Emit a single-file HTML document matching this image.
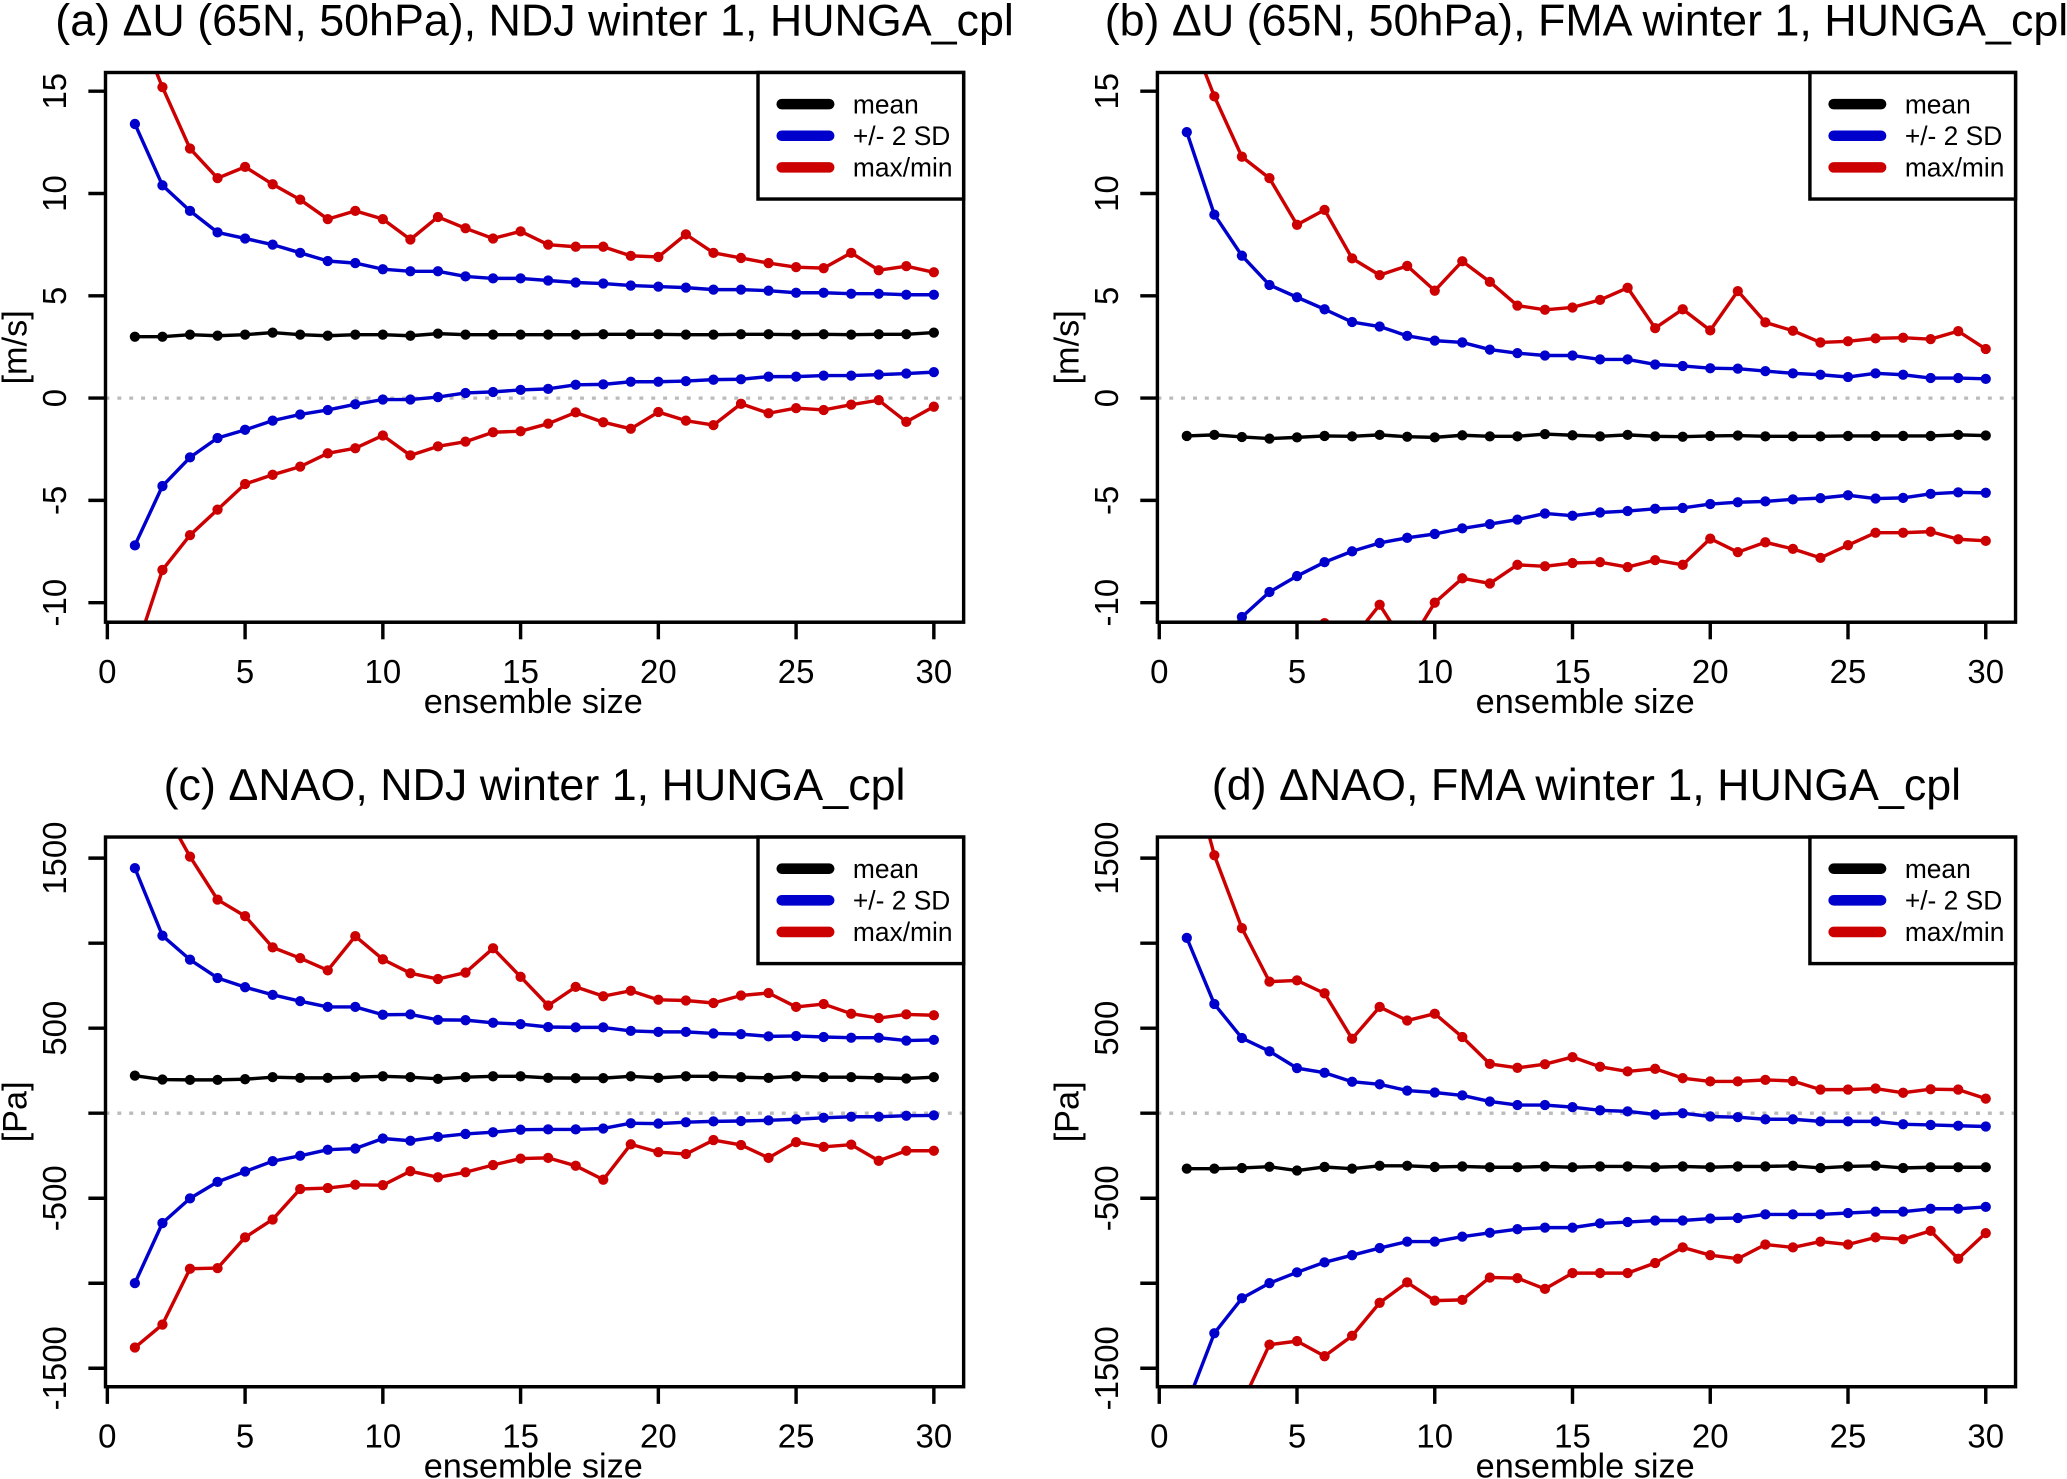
<!DOCTYPE html>
<html><head><meta charset="utf-8"><style>
html,body{margin:0;padding:0;background:#fff}
svg{display:block;font-family:"Liberation Sans",Arial,sans-serif}
</style></head><body>
<svg id="chart" width="2067" height="1479" viewBox="0 0 1568 1122" xmlns="http://www.w3.org/2000/svg"></svg>
<script>
const ensembleSizes = Array.from({length:30},(_,i)=>i+1);
const xTicks = [0,5,10,15,20,25,30];
const uTicks = [-10,-5,0,5,10,15];
const naoTicks = [-1500,-500,500,1500];
const naoMinorTicks = [-1000,0,1000];

const aMean=[3.0,3.0,3.1,3.05,3.1,3.2,3.1,3.05,3.1,3.1,3.05,3.15,3.1,3.1,3.1,3.1,3.1,3.12,3.12,3.12,3.1,3.1,3.12,3.12,3.1,3.12,3.1,3.12,3.12,3.2];
const aSdHi=[13.4,10.4,9.15,8.1,7.8,7.5,7.1,6.7,6.6,6.3,6.2,6.2,5.95,5.85,5.85,5.75,5.65,5.6,5.5,5.45,5.4,5.3,5.3,5.25,5.15,5.15,5.1,5.1,5.05,5.05];
const aSdLo=[-7.2,-4.3,-2.9,-1.95,-1.55,-1.1,-0.8,-0.58,-0.3,-0.07,-0.07,0.05,0.25,0.3,0.4,0.45,0.65,0.67,0.8,0.8,0.83,0.9,0.92,1.05,1.05,1.1,1.1,1.15,1.2,1.27];
const aMax=[18.5,15.2,12.2,10.75,11.3,10.45,9.7,8.75,9.15,8.75,7.75,8.85,8.3,7.8,8.15,7.5,7.4,7.4,6.95,6.9,8.0,7.1,6.85,6.6,6.4,6.35,7.1,6.25,6.45,6.15];
const aMin=[-12.5,-8.4,-6.7,-5.45,-4.2,-3.75,-3.35,-2.7,-2.45,-1.83,-2.8,-2.36,-2.13,-1.67,-1.62,-1.25,-0.7,-1.18,-1.5,-0.68,-1.1,-1.32,-0.28,-0.74,-0.49,-0.58,-0.32,-0.1,-1.16,-0.42];

const bMean=[-1.85,-1.8,-1.9,-1.98,-1.92,-1.85,-1.87,-1.8,-1.89,-1.92,-1.82,-1.87,-1.87,-1.76,-1.82,-1.87,-1.8,-1.87,-1.89,-1.85,-1.83,-1.87,-1.87,-1.87,-1.85,-1.85,-1.85,-1.85,-1.8,-1.83];
const bSdHi=[13.0,8.97,6.96,5.53,4.93,4.34,3.72,3.5,3.04,2.81,2.72,2.37,2.2,2.08,2.08,1.89,1.89,1.64,1.57,1.46,1.44,1.32,1.21,1.14,1.03,1.21,1.14,0.98,0.98,0.94];
const bSdLo=[-16,-12.5,-10.7,-9.48,-8.7,-8.02,-7.49,-7.08,-6.83,-6.64,-6.37,-6.16,-5.94,-5.64,-5.75,-5.59,-5.52,-5.41,-5.37,-5.18,-5.09,-5.05,-4.95,-4.89,-4.75,-4.91,-4.88,-4.68,-4.61,-4.63];
const bMax=[18.2,14.75,11.8,10.75,8.47,9.2,6.83,6.01,6.46,5.25,6.69,5.68,4.52,4.32,4.43,4.8,5.39,3.42,4.34,3.31,5.23,3.7,3.29,2.72,2.78,2.92,2.95,2.88,3.27,2.4];
const bMin=[-25,-18,-15,-13.5,-12,-11.0,-11.8,-10.1,-12.2,-10.0,-8.81,-9.06,-8.15,-8.22,-8.06,-8.02,-8.26,-7.92,-8.15,-6.87,-7.53,-7.05,-7.37,-7.81,-7.19,-6.58,-6.58,-6.53,-6.9,-6.98];

const cMean=[221,198,196,196,200,212,208,208,212,217,212,202,212,217,217,208,206,206,217,208,217,217,212,208,217,212,212,208,204,212];
const cSdHi=[1441,1044,903,795,741,696,659,625,625,579,581,549,547,532,524,507,505,505,484,478,478,469,465,452,454,448,444,444,427,431];
const cSdLo=[-999,-646,-501,-404,-343,-282,-250,-215,-208,-149,-162,-139,-122,-112,-97,-95,-95,-90,-59,-61,-53,-48,-46,-42,-36,-27,-21,-21,-15,-13];
const cMax=[2300,1800,1509,1256,1159,975,912,840,1041,905,823,789,827,970,802,633,743,688,720,667,663,648,692,707,625,642,585,560,581,576];
const cMin=[-1378,-1243,-915,-911,-730,-625,-446,-440,-421,-423,-341,-377,-347,-305,-267,-263,-309,-391,-183,-229,-240,-158,-187,-263,-170,-198,-185,-280,-221,-221];

const dMean=[-326,-326,-322,-315,-337,-316,-326,-309,-309,-316,-313,-318,-318,-313,-318,-313,-313,-318,-313,-318,-313,-313,-309,-322,-313,-309,-322,-318,-318,-318];
const dSdHi=[1031,642,442,364,265,238,185,170,133,122,105,69,48,48,36,17,11,-8,0,-19,-23,-36,-36,-48,-48,-48,-65,-69,-74,-78];
const dSdLo=[-1715,-1294,-1088,-999,-936,-877,-835,-793,-755,-755,-726,-703,-682,-673,-673,-648,-640,-631,-631,-619,-616,-595,-595,-595,-587,-579,-579,-562,-562,-551];
const dMax=[2120,1517,1088,774,781,705,438,625,545,585,448,290,267,288,330,273,246,261,206,187,187,196,189,139,139,145,120,141,139,86];
const dMin=[-2300,-2000,-1708,-1361,-1340,-1429,-1309,-1115,-995,-1102,-1098,-966,-970,-1033,-940,-940,-940,-881,-789,-835,-856,-772,-789,-755,-772,-730,-741,-692,-856,-705];

const NS="http://www.w3.org/2000/svg";
const svg=document.getElementById('chart');
function mk(tag,attrs,parent){const e=document.createElementNS(NS,tag);for(const k in attrs)e.setAttribute(k,attrs[k]);(parent||svg).appendChild(e);return e;}

const panels=[
 {id:'a',title:'(a) ΔU (65N, 50hPa), NDJ winter 1, HUNGA_cpl',ylab:'[m/s]',ox:0,oy:0,y0:302,ys:15.52,ticks:uTicks,minor:[],series:[aMean,aSdHi,aSdLo,aMax,aMin]},
 {id:'b',title:'(b) ΔU (65N, 50hPa), FMA winter 1, HUNGA_cpl',ylab:'[m/s]',ox:798,oy:0,y0:302,ys:15.52,ticks:uTicks,minor:[],series:[bMean,bSdHi,bSdLo,bMax,bMin]},
 {id:'c',title:'(c) ΔNAO, NDJ winter 1, HUNGA_cpl',ylab:'[Pa]',ox:0,oy:580,y0:264.5,ys:0.129,ticks:naoTicks,minor:naoMinorTicks,series:[cMean,cSdHi,cSdLo,cMax,cMin]},
 {id:'d',title:'(d) ΔNAO, FMA winter 1, HUNGA_cpl',ylab:'[Pa]',ox:798,oy:580,y0:264.5,ys:0.129,ticks:naoTicks,minor:naoMinorTicks,series:[dMean,dSdHi,dSdLo,dMax,dMin]}
];
const colors=['#000000','#0000cc','#0000cc','#cc0000','#cc0000'];
const names=['mean-line','sd-upper-line','sd-lower-line','max-line','min-line'];

panels.forEach(p=>{
 const g=mk('g',{transform:`translate(${p.ox},${p.oy})`});
 
 
 const L=80,R=731,T=55,B=472;
 const xs=v=>81.4+v*20.9;
 const ys=v=>p.y0-v*p.ys;
 const cp=mk('clipPath',{id:'clip'+p.id},g);
 mk('rect',{x:L,y:T,width:R-L,height:B-T},cp);
 const t=mk('text',{x:(L+R)/2,y:27,'text-anchor':'middle','font-size':34},g);
 t.textContent=p.title;
 
 
 const z=mk('line',{x1:L,x2:R,y1:ys(0),y2:ys(0),stroke:'#bbbbbb','stroke-width':2.5,'stroke-dasharray':'3 6'},g);
 
 
 const sg=mk('g',{'clip-path':`url(#clip${p.id})`},g);
 p.series.forEach((arr,si)=>{
  const pts=arr.map((v,i)=>xs(ensembleSizes[i]).toFixed(1)+','+ys(v).toFixed(1)).join(' ');
  const pl=mk('polyline',{points:pts,fill:'none',stroke:colors[si],'stroke-width':2.6,'stroke-linejoin':'round'},sg);
  
  
  arr.forEach((v,i)=>{
   const c=mk('circle',{cx:xs(ensembleSizes[i]),cy:ys(v),r:3.9,fill:colors[si]},sg);
   
   
  });
 });
 const box=mk('rect',{x:L,y:T,width:R-L,height:B-T,fill:'none',stroke:'#000','stroke-width':2.6},g);
 
 
 mk('line',{x1:xs(0),x2:xs(30),y1:B,y2:B,stroke:'#000','stroke-width':2.6},g);
 xTicks.forEach(v=>{
  mk('line',{x1:xs(v),x2:xs(v),y1:B,y2:B+13,stroke:'#000','stroke-width':2.6},g);
  const tl=mk('text',{x:xs(v),y:518,'text-anchor':'middle','font-size':25},g);
  tl.textContent=v;
  
  
 });
 const xl=mk('text',{x:(L+R)/2-1,y:541,'text-anchor':'middle','font-size':26},g);
 xl.textContent='ensemble size';
 
 
 p.ticks.concat(p.minor).forEach(v=>{
  mk('line',{x1:L-13,x2:L,y1:ys(v),y2:ys(v),stroke:'#000','stroke-width':2.6},g);
 });
 p.ticks.forEach(v=>{
  const tl=mk('text',{x:0,y:0,'text-anchor':'middle','font-size':25,transform:`translate(50,${ys(v)}) rotate(-90)`},g);
  tl.textContent=v;
  
  
 });
 const yl=mk('text',{x:0,y:0,'text-anchor':'middle','font-size':26,transform:`translate(20,${(T+B)/2}) rotate(-90)`},g);
 yl.textContent=p.ylab;
 
 
 const lg=mk('g',{},g);
 
 
 mk('rect',{x:575,y:T,width:R-575,height:96,fill:'#fff',stroke:'#000','stroke-width':2.6},lg);
 [['mean','#000000'],['+/- 2 SD','#0000cc'],['max/min','#cc0000']].forEach((e,i)=>{
  const y=79+i*24;
  const ent=mk('g',{},lg);
  
  
  mk('line',{x1:593,x2:629,y1:y,y2:y,stroke:e[1],'stroke-width':8,'stroke-linecap':'round'},ent);
  const lt=mk('text',{x:647,y:y+7,'font-size':20},ent);
  lt.textContent=e[0];
 });
});
</script>
</body></html>
